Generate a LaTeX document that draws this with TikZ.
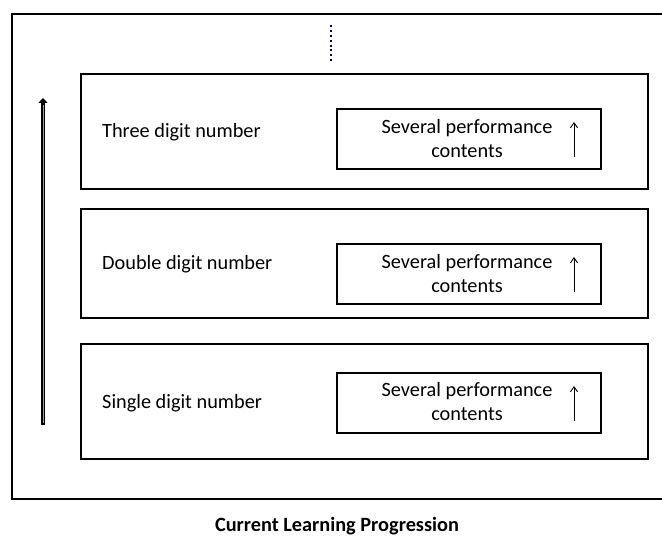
\documentclass[tikz,border=0pt]{standalone}
\usepackage{fontspec}
\setmainfont{Carlito}
\usetikzlibrary{arrows.meta,calc}
\begin{document}
\begin{tikzpicture}[x=1pt,y=-1pt,
  level/.style={draw, line width=1.8pt, inner sep=0pt, anchor=north west, minimum width=567pt, minimum height=114pt},
  perf/.style={draw, line width=1.6pt, inner sep=0pt, anchor=north west, minimum width=264pt, minimum height=60pt},
  lvltext/.style={anchor=west, font=\fontsize{20.3}{24}\selectfont, inner sep=0pt},
  perftext/.style={align=center, font=\fontsize{20.3}{24}\selectfont, inner sep=0pt},
  up/.style={-{Straight Barb[length=5pt,width=7pt]}, line width=0.9pt}
]
\useasboundingbox (0,0) rectangle (662,537);

% outer frame (its right side runs past the page edge)
\draw[line width=2pt] (668,14) -- (12,14) -- (12,499) -- (668,499);

% dotted continuation mark
\coordinate (dtop) at (331,25);
\coordinate (dbot) at (331,63);
\draw[line width=2pt, dash pattern=on 2pt off 2.9pt, color=black!65!blue] (dtop) -- (dbot);

% the three levels
\node[level, minimum height=115pt] (l3) at (80,73) {};
\node[level, minimum height=109pt] (l2) at (80,208) {};
\node[level, minimum height=115pt] (l1) at (80,343) {};

\node[lvltext] (t3) at (102,132) {Three digit number};
\node[lvltext] (t2) at (102,264) {Double digit number};
\node[lvltext] (t1) at (102,403) {Single digit number};

% performance content boxes
\node[perf] (p3) at (336,108) {};
\node[perf] (p2) at (336,243) {};
\node[perf] (p1) at (336,372) {};

\node[perftext] (pt3) at (467,139) {Several performance\\contents};
\node[perftext] (pt2) at (467,274) {Several performance\\contents};
\node[perftext] (pt1) at (467,402) {Several performance\\contents};

% small upward arrows inside the boxes
\foreach \n/\y in {a3/122, a2/257, a1/386}{
  \coordinate (\n b) at (574,\y+35);
  \coordinate (\n t) at (574,\y);
  \draw[up] (\n b) -- (\n t);
}

% overall progression arrow
\coordinate (pb) at (43,425);
\coordinate (pt) at (43,98);
\draw[line width=3.4pt, -{Triangle[length=5pt,width=9pt]}] (pb) -- (pt);
\draw[line width=0.8pt, white!60!black] ($(pb)+(0,-2)$) -- ($(pt)+(0,7)$);

% caption
\node[font=\bfseries\fontsize{20.3}{24}\selectfont, inner sep=0pt, anchor=base] (cap) at (337,531.5) {Current Learning Progression};
\end{tikzpicture}
\end{document}
